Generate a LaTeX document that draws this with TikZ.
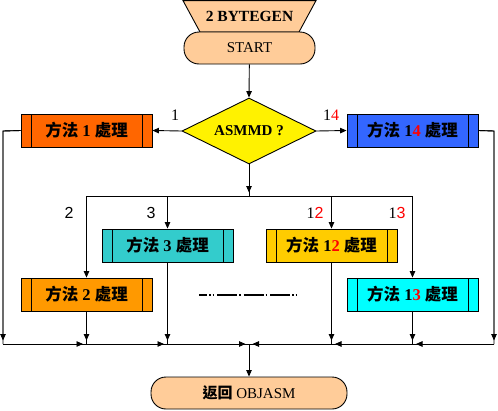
\documentclass[tikz,border=0pt]{standalone}
\usepackage{fontspec}
\setmainfont{Liberation Serif}
\setsansfont{Liberation Sans}
\newfontfamily\cjk{Noto Sans CJK TC}
\usetikzlibrary{arrows.meta,shapes.geometric}
\definecolor{peach}{HTML}{FFCC99}
\definecolor{mone}{HTML}{FF6600}
\definecolor{mtwo}{HTML}{FF9900}
\definecolor{mthree}{HTML}{33CCCC}
\definecolor{mtwelve}{HTML}{FFCC00}
\definecolor{mthirteen}{HTML}{00FFFF}
\definecolor{mfourteen}{HTML}{3366FF}
\newcommand\meth[2]{{\cjk 方法} #1\textcolor{red}{#2} {\cjk 處理}}
\begin{document}
\begin{tikzpicture}[x=1pt,y=-1pt,line width=0.9pt,
  proc/.style={draw,minimum width=131pt,minimum height=33pt,inner sep=0pt,
    font=\fontsize{16.5}{18}\selectfont\bfseries,
    path picture={\draw ([xshift=10pt]path picture bounding box.north west) -- ([xshift=10pt]path picture bounding box.south west);
      \draw ([xshift=-10pt]path picture bounding box.north east) -- ([xshift=-10pt]path picture bounding box.south east);}},
  arr/.style={-{Triangle[length=6.5pt,width=5.5pt]}},
  barr/.style={postaction={draw,-{Triangle[length=6.5pt,width=5.5pt]},shorten >=3.5pt}},
  term/.style={draw,fill=peach,rounded corners=15pt,minimum height=32pt,inner sep=0pt,
    font=\fontsize{15}{18}\selectfont},
  lab/.style={font=\fontsize{16}{18}\selectfont},
  slab/.style={font=\fontsize{16}{18}\selectfont\sffamily}]
\useasboundingbox (0,0) rectangle (498,410);
% header trapezoid
\filldraw[fill=peach] (183,0.6) -- (316,0.6) -- (299,32) -- (200,32) -- cycle;
\node[font=\fontsize{15.5}{18}\selectfont\bfseries] (gen) at (249.5,16) {2 BYTEGEN};
\node[term,minimum width=131pt] (start) at (249.5,48) {START};
\node[diamond,draw,fill=yellow,minimum width=134pt,minimum height=66pt,inner sep=0pt,aspect=2,
  font=\fontsize{15}{18}\selectfont\bfseries] (q) at (249,131) {ASMMD ?};
% process boxes
\node[proc,fill=mone] (m1) at (86.5,130.5) {\meth{1}{}};
\node[proc,fill=mfourteen] (m14) at (412.5,130.5) {\meth{1}{4}};
\node[proc,fill=mthree] (m3) at (167.5,245.5) {\meth{3}{}};
\node[proc,fill=mtwelve] (m12) at (331.5,245.5) {\meth{1}{2}};
\node[proc,fill=mtwo] (m2) at (86.5,294.5) {\meth{2}{}};
\node[proc,fill=mthirteen] (m13) at (412.5,294.5) {\meth{1}{3}};
\node[term,minimum width=196pt] (end) at (249,393) {{\cjk\bfseries 返回} OBJASM};
% labels
\node[lab] (l1) at (175,115) {1};
\node[lab] (l14) at (331,115) {1\textcolor{red}{4}};
\node[slab] (l2) at (69,213) {2};
\node[slab] (l3) at (151,213) {3};
\node[lab] (l12) at (315,213) {1\textcolor{red}{\sffamily 2}};
\node[lab] (l13) at (397,213) {1\textcolor{red}{\sffamily 3}};
% coordinates
\coordinate (c1) at (3,131);
\coordinate (c14) at (494,131);
\coordinate (t2) at (86.5,196);
\coordinate (t3) at (167.5,196);
\coordinate (tc) at (249,196);
\coordinate (t12) at (331.5,196);
\coordinate (t13) at (412.5,196);
\coordinate (b0) at (3,344);
\coordinate (b2) at (86.5,344);
\coordinate (b3) at (167.5,344);
\coordinate (bc) at (249,344);
\coordinate (b12) at (331.5,344);
\coordinate (b13) at (412.5,344);
\coordinate (b14) at (494,344);
% connectors
\draw[arr] (start) -- (q.north);
\draw[arr] (q.west) -- (m1.east);
\draw[arr] (q.east) -- (m14.west);
\draw[barr] (q.south) -- (tc);
\draw (t2) -- (t13);
\draw[arr] (t2) -- (m2.north);
\draw[arr] (t3) -- (m3.north);
\draw[arr] (t12) -- (m12.north);
\draw[arr] (t13) -- (m13.north);
\draw[barr] (m1.west) -- (c1) -- (b0);
\draw[barr] (m14.east) -- (c14) -- (b14);
\draw[barr] (m2.south) -- (b2);
\draw[barr] (m3.south) -- (b3);
\draw[barr] (m12.south) -- (b12);
\draw[barr] (m13.south) -- (b13);
\draw (b0) -- (b14);
\draw[barr] (b0) -- (b2);
\draw[barr] (b2) -- (b3);
\draw[barr] (b3) -- (bc);
\draw[barr] (b14) -- (b13);
\draw[barr] (b13) -- (b12);
\draw[barr] (b12) -- (bc);
\draw[arr] (bc) -- (end.north);
% ellipsis line
\draw[line width=1.6pt,dash pattern=on 8pt off 2pt on 1.5pt off 2pt on 1.5pt off 3pt on 20pt off 2pt on 1.5pt off 3pt on 20pt off 2pt on 1.5pt off 3pt on 20pt off 2pt on 1.5pt off 2pt on 1.5pt off 2pt on 1.5pt off 2pt on 1.5pt off 10pt] (199,295) -- (299,295);
\end{tikzpicture}
\end{document}
